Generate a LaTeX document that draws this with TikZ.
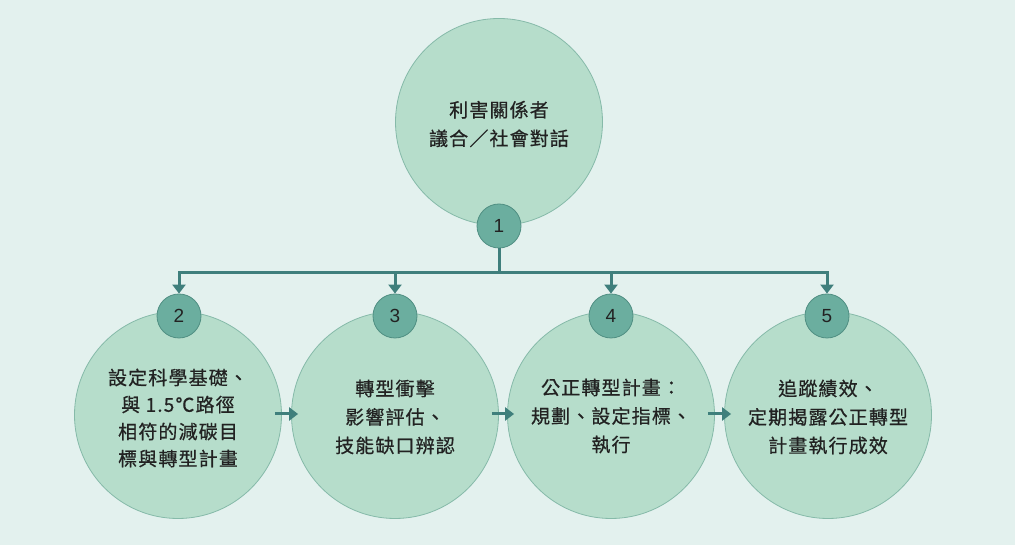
\documentclass[tikz,border=0pt]{standalone}
\usepackage{fontspec}
\newfontfamily\cjk[LetterSpace=6,FakeBold=0.6]{Noto Sans CJK TC}
\newfontfamily\numfont{Liberation Sans}
\usetikzlibrary{arrows.meta,calc}
\definecolor{bg}{HTML}{E3F1EE}
\definecolor{bigfill}{HTML}{B6DDCB}
\definecolor{bigline}{HTML}{86BAA9}
\definecolor{smallfill}{HTML}{6BAE9F}
\definecolor{smallline}{HTML}{4F8E82}
\definecolor{conn}{HTML}{3F7F7C}
\definecolor{txt}{HTML}{222222}
\tikzset{
  bigc/.style={circle,draw=bigline,line width=0.8pt,fill=bigfill,minimum size=207pt,inner sep=0pt,
    align=center,text=txt,font=\cjk\fontsize{19}{28.5}\selectfont},
  numc/.style={circle,draw=smallline,line width=0.8pt,fill=smallfill,minimum size=44pt,inner sep=0pt,
    text=txt,font=\numfont\fontsize{19}{20}\selectfont},
  link/.style={draw=conn,line width=3pt},
  arr/.style={link,-{Triangle[length=9pt,width=13pt]}},
  lbl/.style={align=center,text=txt,font=\cjk\fontsize{19}{28.5}\selectfont,inner sep=0pt},
}
\begin{document}
\begin{tikzpicture}[x=1pt,y=1pt]
\fill[bg] (0,0) rectangle (1015,545);
\useasboundingbox (0,0) rectangle (1015,545);
\node[bigc] (b1) at (499,423) {};
\node[bigc] (b2) at (178,130) {};
\node[bigc] (b3) at (395,130) {};
\node[bigc] (b4) at (611,130) {};
\node[bigc] (b5) at (828,130) {};
\node[lbl] (t1) at ($(b1)+(0,-2)$) {利害關係者\\議合／社會對話};
\node[lbl,font=\cjk\fontsize{19}{27}\selectfont] (t2) at ($(b2)+(0,-3)$) {設定科學基礎、\\與 1.5℃路徑\\相符的減碳目\\標與轉型計畫};
\node[lbl] (t3) at ($(b3)+(0,-2)$) {轉型衝擊\\影響評估、\\技能缺口辨認};
\node[lbl] (t4) at ($(b4)+(0,-1)$) {公正轉型計畫：\\規劃、設定指標、\\執行};
\node[lbl] (t5) at ($(b5)+(0,-2)$) {追蹤績效、\\定期揭露公正轉型\\計畫執行成效};
\node[numc] (n1) at (499,319) {1};
\node[numc] (n2) at (179,229) {2};
\node[numc] (n3) at (395,229) {3};
\node[numc] (n4) at (611,229) {4};
\node[numc] (n5) at (827,229) {5};
\coordinate (bus) at (499,272.5);
\draw[link] (n1.south) -- (bus);
\draw[arr] (bus) -| (n2.north);
\draw[arr] (bus) -| (n3.north);
\draw[arr] (bus) -| (n4.north);
\draw[arr] (bus) -| (n5.north);
\draw[arr] ($(b2.east)+(-7,1)$) -- ($(b3.west)+(7,1)$);
\draw[arr] ($(b3.east)+(-7,1)$) -- ($(b4.west)+(7,1)$);
\draw[arr] ($(b4.east)+(-7,1)$) -- ($(b5.west)+(7,1)$);
\end{tikzpicture}
\end{document}
